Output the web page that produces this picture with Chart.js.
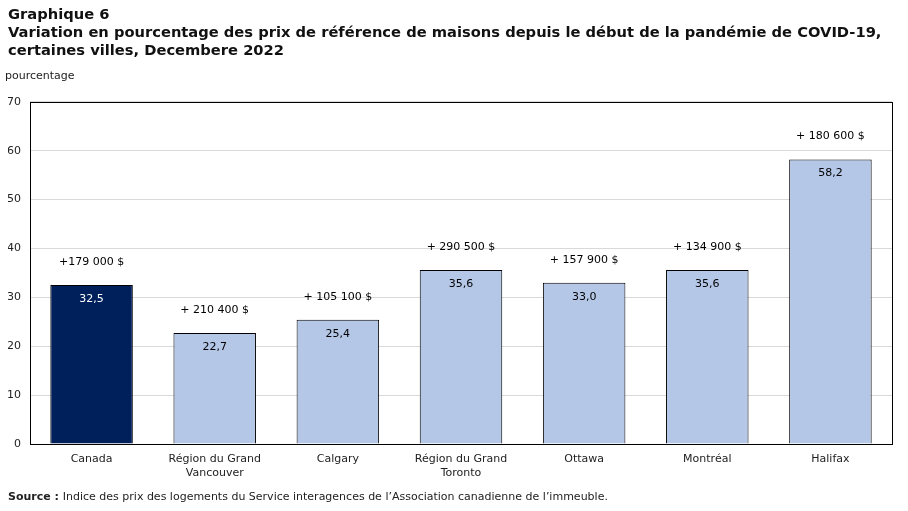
<!DOCTYPE html>
<html>
<head>
<meta charset="utf-8">
<script src="https://cdn.jsdelivr.net/npm/chart.js@4/dist/chart.umd.min.js"></script>
<style>
  html, body { margin: 0; padding: 0; background: #fff; }
  #wrap { width: 908px; height: 511px; }
</style>
</head>
<body>
<div id="wrap"><canvas id="chart"></canvas></div>
<script>
const cities = [
  'Canada',
  ['Région du Grand', 'Vancouver'],
  'Calgary',
  ['Région du Grand', 'Toronto'],
  'Ottawa',
  'Montréal',
  'Halifax'
];
const pctChange = [32.5, 22.7, 25.4, 35.6, 33.0, 35.6, 58.2];
const dollarChange = ['+179 000 $', '+ 210 400 $', '+ 105 100 $', '+ 290 500 $', '+ 157 900 $', '+ 134 900 $', '+ 180 600 $'];
const yTicks = [0, 10, 20, 30, 40, 50, 60, 70];

const FONT = '"DejaVu Sans", Verdana, sans-serif';
const navy = '#00205b';
const lightBlue = '#b4c7e7';

// labels on bars, axis title, frame and source note
const extras = {
  id: 'extras',
  afterDatasetsDraw(chart) {
    const ctx = chart.ctx;
    const area = chart.chartArea;
    const meta = chart.getDatasetMeta(0);
    ctx.save();
    ctx.font = '11px ' + FONT;
    ctx.textAlign = 'center';
    ctx.textBaseline = 'middle';
    meta.data.forEach((bar, i) => {
      ctx.fillStyle = i === 0 ? '#ffffff' : '#000000';
      ctx.fillText(pctChange[i].toFixed(1).replace('.', ','), bar.x, bar.y + 14);
      ctx.fillStyle = '#000000';
      ctx.fillText(dollarChange[i], bar.x, bar.y - 23);
    });
    // frame
    ctx.strokeStyle = '#000';
    ctx.lineWidth = 1;
    ctx.strokeRect(Math.round(area.left) + 0.5, Math.round(area.top) + 0.5,
      Math.round(area.right - area.left), Math.round(area.bottom - area.top));
    // axis title
    ctx.textAlign = 'left';
    ctx.fillStyle = '#222';
    ctx.fillText('pourcentage', 5, area.top - 26);
    // source
    ctx.font = 'bold 11px ' + FONT;
    ctx.fillText('Source :', 8, 497);
    const w = ctx.measureText('Source : ').width;
    ctx.font = '11px ' + FONT;
    ctx.fillText('Indice des prix des logements du Service interagences de l\u2019Association canadienne de l\u2019immeuble.', 8 + w, 497);
    ctx.restore();
  }
};

new Chart(document.getElementById('chart'), {
  type: 'bar',
  data: {
    labels: cities,
    datasets: [{
      data: pctChange,
      backgroundColor: pctChange.map((v, i) => i === 0 ? navy : lightBlue),
      borderColor: '#000',
      borderWidth: 1,
      borderSkipped: 'bottom',
      categoryPercentage: 1,
      barPercentage: 0.67
    }]
  },
  options: {
    responsive: true,
    maintainAspectRatio: false,
    animation: false,
    layout: { padding: { left: 8, right: 16, top: 0, bottom: 0 } },
    plugins: {
      legend: { display: false },
      tooltip: { enabled: false },
      title: {
        display: true,
        align: 'start',
        text: [
          'Graphique 6',
          'Variation en pourcentage des prix de référence de maisons depuis le début de la pandémie de COVID-19,',
          'certaines villes, Decembere 2022'
        ],
        color: '#111',
        font: { family: FONT, size: 14.7, weight: 'bold', lineHeight: 1.22 },
        padding: { top: 6, bottom: 42 }
      }
    },
    scales: {
      x: {
        grid: { display: false, drawTicks: false },
        border: { display: false },
        ticks: { color: '#222', font: { family: FONT, size: 11 }, padding: 9, maxRotation: 0, autoSkip: false },
        afterFit(scale) { scale.height = 67; }
      },
      y: {
        min: 0,
        max: 70,
        afterBuildTicks(scale) { scale.ticks = yTicks.map(v => ({ value: v })); },
        grid: { color: '#d9d9d9', drawTicks: false },
        border: { display: false },
        ticks: { color: '#222', font: { family: FONT, size: 11 }, padding: 9 },
        afterFit(scale) { scale.width = 22; }
      }
    }
  },
  plugins: [extras]
});
</script>
</body>
</html>
